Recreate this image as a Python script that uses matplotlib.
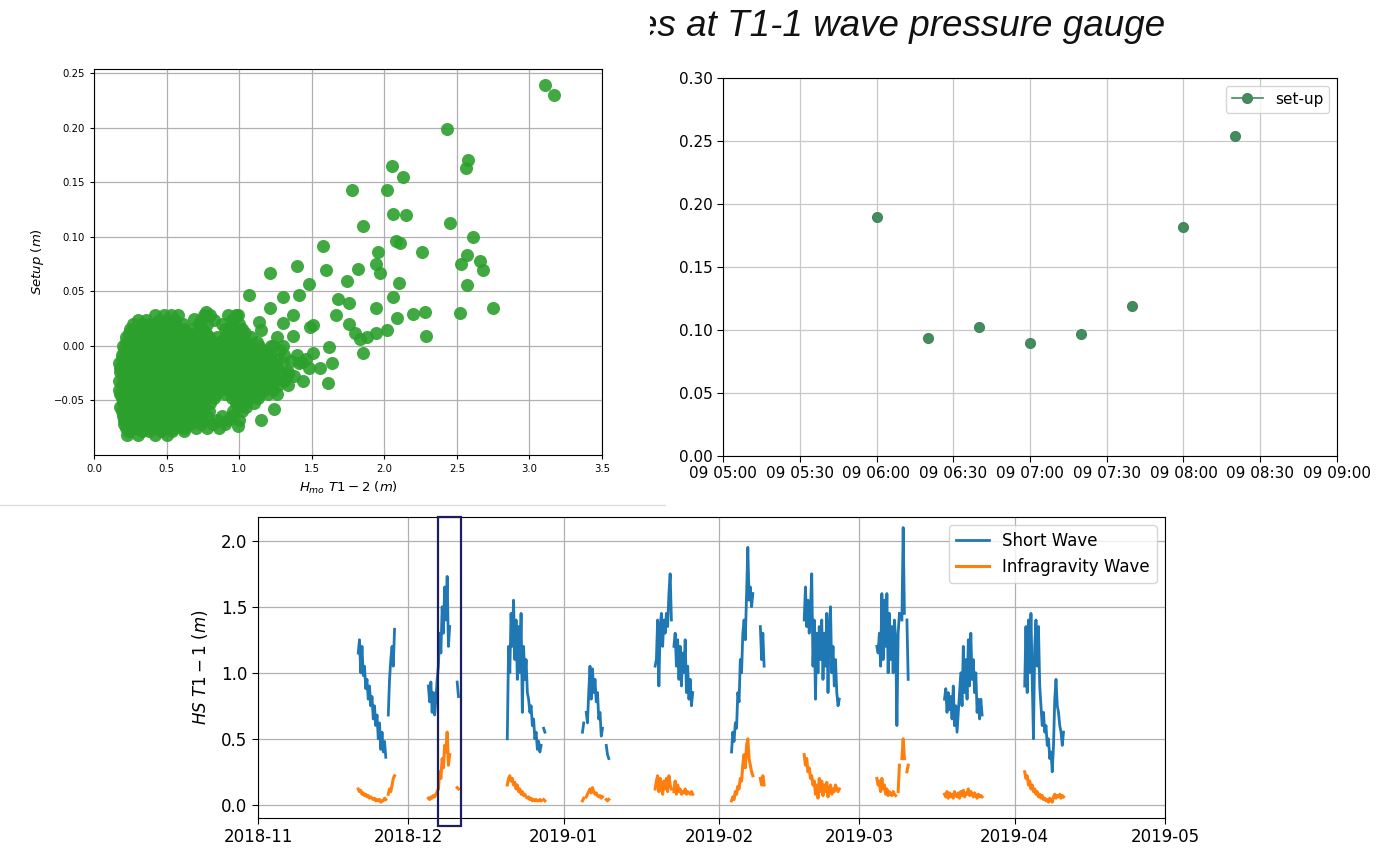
import numpy as np
import pandas as pd
import matplotlib
matplotlib.use('Agg')
import matplotlib.pyplot as plt
import matplotlib.dates as mdates
from matplotlib.patches import Rectangle
from matplotlib.transforms import Bbox, blended_transform_factory

nan = np.nan
W, H = 1392, 852

# ---- scatter: setup vs Hmo (T1-2) ----
hmo_out = [3.11, 3.17, 2.43, 2.58, 2.56, 2.05, 2.13, 1.78, 2.02, 2.06, 2.15, 1.85, 2.45, 2.61,
           2.08, 2.11, 1.58, 1.96, 2.26, 2.57, 1.40, 1.94, 1.97, 2.53, 1.60, 1.82, 2.66, 2.68,
           1.21, 1.74, 1.48, 2.10, 2.57, 1.07, 1.30, 1.41, 2.06, 1.68, 1.76, 1.21, 1.94, 2.75,
           2.28, 2.20, 2.52, 1.67, 1.37, 2.09, 1.76, 1.14, 1.30, 1.15, 1.80, 1.49, 2.02, 1.94,
           1.88, 1.83, 2.29, 1.37, 1.62, 1.85, 1.23, 1.21, 1.36, 1.43, 1.64, 1.56, 1.34, 1.44,
           1.61, 1.26, 1.24, 1.15, 0.99, 1.51, 1.51, 0.99, 0.77, 0.69]
setup_out = [0.239, 0.230, 0.199, 0.171, 0.163, 0.165, 0.155, 0.143, 0.143, 0.121, 0.120, 0.110,
             0.113, 0.100, 0.096, 0.094, 0.092, 0.086, 0.086, 0.083, 0.073, 0.075, 0.067, 0.075,
             0.070, 0.071, 0.078, 0.070, 0.067, 0.060, 0.057, 0.058, 0.056, 0.047, 0.045, 0.047,
             0.045, 0.043, 0.039, 0.035, 0.035, 0.035, 0.031, 0.029, 0.030, 0.028, 0.028, 0.026,
             0.020, 0.022, 0.021, 0.015, 0.012, 0.017, 0.015, 0.012, 0.008, 0.006, 0.009, 0.009,
             -0.001, -0.006, 0.000, -0.008, -0.014, -0.015, -0.016, -0.020, -0.026, -0.032,
             -0.034, -0.044, -0.058, -0.068, -0.073, -0.006, 0.019, 0.028, 0.031, 0.025]

# dense cluster, read row by row
blob_setup = [0.028, 0.020, 0.012, 0.004, -0.004, -0.012, -0.020, -0.028, -0.036, -0.044,
              -0.052, -0.060, -0.068, -0.075, -0.082]
blob_hmo = [
    [0.42, 0.48, 0.53, 0.58, 0.76, 0.80, 0.92, 0.98],
    [0.27, 0.33, 0.38, 0.44, 0.50, 0.56, 0.61, 0.72, 0.78, 0.88, 0.95, 1.00],
    [0.24, 0.30, 0.36, 0.42, 0.47, 0.53, 0.59, 0.64, 0.70, 0.77, 0.92, 0.98, 1.04],
    [0.22, 0.27, 0.33, 0.39, 0.45, 0.51, 0.57, 0.63, 0.69, 0.75, 0.81, 0.87, 0.93, 0.99, 1.05, 1.12],
    [0.21, 0.26, 0.32, 0.38, 0.44, 0.50, 0.56, 0.62, 0.68, 0.74, 0.80, 0.86, 0.92, 0.98, 1.04,
     1.10, 1.16, 1.28],
    [0.19, 0.25, 0.31, 0.37, 0.43, 0.49, 0.55, 0.61, 0.67, 0.73, 0.79, 0.85, 0.91, 0.97, 1.03,
     1.09, 1.15, 1.21, 1.27, 1.46],
    [0.18, 0.24, 0.30, 0.36, 0.42, 0.48, 0.54, 0.60, 0.66, 0.72, 0.78, 0.84, 0.90, 0.96, 1.02,
     1.08, 1.14, 1.20, 1.26, 1.48],
    [0.20, 0.26, 0.32, 0.38, 0.44, 0.50, 0.56, 0.62, 0.68, 0.74, 0.80, 0.86, 0.92, 0.98, 1.04,
     1.10, 1.16, 1.22, 1.30, 1.38],
    [0.19, 0.25, 0.31, 0.37, 0.43, 0.49, 0.55, 0.61, 0.67, 0.73, 0.79, 0.85, 0.91, 0.97, 1.03,
     1.09, 1.15, 1.21, 1.27, 1.34],
    [0.18, 0.24, 0.30, 0.36, 0.42, 0.48, 0.54, 0.60, 0.66, 0.72, 0.78, 0.84, 0.90, 0.96, 1.02,
     1.08, 1.14, 1.20],
    [0.20, 0.26, 0.32, 0.38, 0.44, 0.50, 0.56, 0.62, 0.68, 0.74, 0.80, 0.98, 1.04, 1.10],
    [0.19, 0.25, 0.31, 0.37, 0.43, 0.49, 0.55, 0.61, 0.67, 0.73, 0.79, 0.96, 1.02],
    [0.21, 0.27, 0.33, 0.39, 0.45, 0.51, 0.57, 0.63, 0.69, 0.75, 0.85, 0.92, 1.00],
    [0.22, 0.28, 0.35, 0.42, 0.48, 0.55, 0.62, 0.70, 0.78, 0.86],
    [0.23, 0.30, 0.42, 0.50],
]
# in-between rows of the same cluster (points sit staggered)
blob_mid_setup = [0.024, 0.016, 0.008, 0.000, -0.008, -0.016, -0.024, -0.032, -0.040, -0.048,
                  -0.056, -0.064, -0.072, -0.078]
blob_mid_hmo = [
    [0.30, 0.36, 0.45, 0.51, 0.56, 0.74, 0.83, 0.95],
    [0.25, 0.31, 0.39, 0.45, 0.50, 0.55, 0.62, 0.68, 0.75, 0.90, 0.96, 1.02],
    [0.22, 0.29, 0.35, 0.41, 0.48, 0.54, 0.60, 0.66, 0.72, 0.79, 0.85, 0.90, 0.96, 1.02, 1.08, 1.26],
    [0.20, 0.24, 0.30, 0.36, 0.42, 0.48, 0.54, 0.60, 0.66, 0.72, 0.78, 0.84, 0.90, 0.96, 1.02,
     1.08, 1.14, 1.22, 1.30],
    [0.19, 0.23, 0.29, 0.35, 0.41, 0.47, 0.53, 0.59, 0.65, 0.71, 0.77, 0.83, 0.89, 0.95, 1.01,
     1.07, 1.13, 1.19, 1.31, 1.40],
    [0.17, 0.22, 0.28, 0.34, 0.40, 0.46, 0.52, 0.58, 0.64, 0.70, 0.76, 0.82, 0.88, 0.94, 1.00,
     1.06, 1.12, 1.18, 1.24, 1.30, 1.41],
    [0.18, 0.23, 0.29, 0.35, 0.41, 0.47, 0.53, 0.59, 0.65, 0.71, 0.77, 0.83, 0.89, 0.95, 1.01,
     1.07, 1.13, 1.19, 1.25, 1.34],
    [0.17, 0.22, 0.28, 0.34, 0.40, 0.46, 0.52, 0.58, 0.64, 0.70, 0.76, 0.82, 0.88, 0.94, 1.00,
     1.06, 1.12, 1.18, 1.24, 1.31],
    [0.17, 0.21, 0.27, 0.33, 0.39, 0.45, 0.51, 0.57, 0.63, 0.69, 0.75, 0.81, 0.87, 0.93, 0.99,
     1.05, 1.11, 1.17, 1.23],
    [0.19, 0.23, 0.29, 0.35, 0.41, 0.47, 0.53, 0.59, 0.65, 0.71, 0.77, 0.83, 0.95, 1.01, 1.07, 1.13],
    [0.18, 0.22, 0.28, 0.34, 0.40, 0.46, 0.52, 0.58, 0.64, 0.70, 0.76, 0.99, 1.05],
    [0.20, 0.24, 0.30, 0.36, 0.42, 0.48, 0.54, 0.60, 0.66, 0.72, 0.78, 0.88, 0.95],
    [0.21, 0.25, 0.32, 0.38, 0.45, 0.52, 0.59, 0.66, 0.74, 0.82, 0.90],
    [0.24, 0.33, 0.38, 0.46, 0.54, 0.62],
]

# ---- set-up time series (top right) ----
setup_times = ['2019-01-09 06:00', '2019-01-09 06:10', '2019-01-09 06:20', '2019-01-09 06:30',
               '2019-01-09 06:40', '2019-01-09 06:50', '2019-01-09 07:00', '2019-01-09 07:10',
               '2019-01-09 07:20', '2019-01-09 07:30', '2019-01-09 07:40', '2019-01-09 07:50',
               '2019-01-09 08:00', '2019-01-09 08:10', '2019-01-09 08:20']
setup_vals = [0.190, nan, 0.094, nan, 0.102, nan, 0.090, nan, 0.097, nan, 0.119, nan, 0.182, nan, 0.254]

# ---- HS at T1-1 (bottom), 6-hourly values per storm burst ----
burst_start = ['2018-11-21 00:00', '2018-12-05 00:00', '2018-12-20 18:00', '2019-01-04 18:00',
               '2019-01-19 06:00', '2019-02-03 12:00', '2019-02-18 00:00', '2019-03-04 12:00',
               '2019-03-18 00:00', '2019-04-03 00:00']
sw1 = [1.15, 1.25, 1.00, 1.20, 0.98, 1.05, 0.88, 0.95, 0.80, 0.90, 0.75, 0.82, 0.65, 0.75, 0.60,
       0.68, 0.50, 0.62, 0.42, 0.55, 0.40, 0.48, 0.36, nan, 0.68, 0.95, 1.10, 1.20, 1.05, 1.33]
ig1 = [0.12, 0.10, 0.11, 0.08, 0.09, 0.07, 0.08, 0.06, 0.07, 0.05, 0.06, 0.05, 0.04, 0.05, 0.03,
       0.04, 0.03, 0.04, 0.02, 0.03, 0.03, 0.05, 0.04, nan, 0.08, 0.12, 0.10, 0.15, 0.20, 0.22]
sw2 = [0.90, 0.78, 0.93, 0.70, 0.85, 0.68, 0.80, 0.95, 1.05, 1.30, 1.15, 1.50, 1.30, 1.65, 1.40,
       1.73, 1.20, 1.35, nan, nan, nan, nan, nan, 0.93, 0.82]
ig2 = [0.05, 0.04, 0.06, 0.05, 0.07, 0.06, 0.08, 0.10, 0.12, 0.25, 0.20, 0.35, 0.28, 0.45, 0.40,
       0.55, 0.30, 0.38, nan, nan, nan, nan, nan, 0.13, 0.12]
sw3 = [0.50, 1.20, 1.00, 1.45, 1.20, 1.55, 1.10, 1.40, 0.95, 1.35, 1.00, 1.45, 0.70, 1.20, 0.95,
       1.10, 0.85, 0.80, 0.70, 0.75, 0.60, 0.65, 0.50, 0.55, 0.42, 0.48, 0.40, 0.45, nan, 0.58, 0.55]
ig3 = [0.15, 0.20, 0.22, 0.18, 0.20, 0.15, 0.17, 0.12, 0.15, 0.10, 0.12, 0.08, 0.10, 0.07, 0.08,
       0.06, 0.05, 0.06, 0.04, 0.05, 0.03, 0.04, 0.03, 0.04, 0.03, 0.03, 0.04, 0.03, nan, 0.04, 0.03]
sw4 = [0.55, 0.62, nan, 0.70, 0.62, 0.85, 1.05, 0.80, 1.03, 0.85, 0.95, 0.78, 0.85, 0.65, 0.70,
       0.52, 0.58, nan, nan, 0.45, 0.38, 0.35]
ig4 = [0.03, 0.05, nan, 0.06, 0.08, 0.10, 0.12, 0.09, 0.13, 0.10, 0.08, 0.09, 0.07, 0.06, 0.07,
       0.05, 0.06, nan, nan, 0.04, 0.03, 0.04]
sw5 = [1.05, 1.10, 1.40, 0.90, 1.35, 1.45, 1.20, 1.40, 1.30, 1.45, 1.35, 1.60, 1.75, 1.40, nan,
       1.20, 1.30, 1.05, 1.25, 0.95, 1.20, 0.90, 1.15, 1.00, 1.25, 0.85, 1.05, 0.80, 0.95, 0.75, 0.85]
ig5 = [0.12, 0.18, 0.22, 0.10, 0.20, 0.15, 0.08, 0.18, 0.12, 0.20, 0.10, 0.22, 0.15, 0.12, nan,
       0.10, 0.18, 0.08, 0.15, 0.10, 0.12, 0.08, 0.10, 0.09, 0.12, 0.08, 0.10, 0.09, 0.08, 0.10, 0.08]
sw6 = [0.40, 0.55, 0.48, 0.62, 0.58, 0.85, 0.78, 1.10, 1.00, 1.30, 1.40, 1.25, 1.60, 1.95, 1.55,
       1.65, 1.50, 1.60, nan, nan, nan, nan, nan, 1.35, 1.10, 1.30, 1.05]
ig6 = [0.03, 0.06, 0.04, 0.10, 0.08, 0.14, 0.12, 0.20, 0.18, 0.30, 0.38, 0.28, 0.45, 0.50, 0.35,
       0.30, 0.25, 0.22, nan, nan, nan, nan, nan, 0.20, 0.15, 0.22, 0.15]
sw7 = [1.40, 1.65, 1.35, 1.55, 1.30, 1.48, 1.75, 1.05, 1.40, 0.80, 1.30, 1.00, 1.35, 1.10, 1.40,
       0.95, 1.30, 1.05, 1.45, 0.85, 1.35, 1.50, 1.00, 1.20, 0.90, 1.10, 0.85, 0.75, 0.80]
ig7 = [0.38, 0.30, 0.35, 0.25, 0.28, 0.20, 0.22, 0.15, 0.18, 0.08, 0.15, 0.05, 0.20, 0.10, 0.18,
       0.07, 0.15, 0.10, 0.17, 0.06, 0.12, 0.15, 0.08, 0.12, 0.10, 0.15, 0.12, 0.10, 0.12]
sw8 = [1.20, 1.15, 1.30, 1.05, 1.60, 1.10, 1.55, 1.20, 1.60, 1.00, 1.45, 1.10, 1.35, 1.00, 1.40,
       1.25, 0.60, 1.30, 1.45, nan, 1.40, 2.10, 1.45, nan, 1.40, 0.95]
ig8 = [0.20, 0.15, 0.18, 0.10, 0.20, 0.12, 0.15, 0.08, 0.12, 0.07, 0.10, 0.08, 0.07, 0.10, 0.08,
       0.07, nan, 0.10, 0.30, nan, 0.35, 0.50, 0.35, nan, 0.25, 0.30]
sw9 = [0.80, 0.88, 0.70, 0.85, 0.72, 0.82, 0.65, 0.90, 0.60, 0.75, 0.55, 0.70, 0.85, 1.00, 0.75,
       1.20, 0.85, 1.10, 0.80, 1.25, 0.90, 1.30, 0.95, 1.10, 0.85, 1.00, 0.70, 0.80, 0.65, 0.80, 0.68]
ig9 = [0.08, 0.06, 0.10, 0.05, 0.09, 0.06, 0.08, 0.05, 0.10, 0.07, 0.06, 0.09, 0.05, 0.10, 0.07,
       0.11, 0.06, 0.09, 0.08, 0.12, 0.07, 0.10, 0.08, 0.06, 0.09, 0.07, 0.05, 0.08, 0.06, 0.07, 0.06]
sw10 = [0.90, 1.35, 0.85, 1.40, 1.00, 1.45, 0.95, 0.50, 1.20, 1.40, 1.05, 1.35, 0.90, 0.75, 0.60,
        0.70, 0.55, 0.60, 0.45, 0.50, 0.35, 0.40, 0.25, 0.45, 0.80, 0.95, 0.75, 0.70, 0.60, 0.55,
        0.45, 0.55]
ig10 = [0.25, 0.20, 0.22, 0.15, 0.18, 0.12, 0.15, 0.10, 0.12, 0.08, 0.10, 0.06, 0.08, 0.05, 0.07,
        0.04, 0.05, 0.03, 0.04, 0.02, 0.05, 0.03, 0.02, 0.06, 0.08, 0.05, 0.07, 0.06, 0.08, 0.05,
        0.07, 0.06]
short_wave = [sw1, sw2, sw3, sw4, sw5, sw6, sw7, sw8, sw9, sw10]
infragravity = [ig1, ig2, ig3, ig4, ig5, ig6, ig7, ig8, ig9, ig10]

box_dates = ['2018-12-06 21:00', '2018-12-11 12:00']


def join_bursts(starts, bursts):
    # put each burst on a 6 h time axis, NaN between bursts so lines break
    t_all, v_all = [], []
    for s, vals in zip(starts, bursts):
        t = pd.Timestamp(s) + pd.to_timedelta(np.arange(len(vals)) * 6, unit='h')
        t_all.extend(list(t) + [t[-1] + pd.Timedelta(hours=1)])
        v_all.extend(list(vals) + [nan])
    return pd.to_datetime(t_all), np.array(v_all, dtype=float)


def rect(l, t, r, b):
    return [l / W, 1 - b / H, (r - l) / W, (b - t) / H]


fig = plt.figure(figsize=(W / 100, H / 100), dpi=100)
fig.patch.set_facecolor('white')

# separator line under the scatter screenshot
fig.add_artist(plt.Line2D([0, 665 / W], [1 - 505 / H, 1 - 505 / H], color='#dcdcdc', lw=1))

# title fragment, cut at the left like in the slide
title = fig.text(637 / W, 1 - 27 / H, 'es at T1-1 wave pressure gauge', family='Liberation Sans',
                 fontstyle='italic', fontsize=26.5, ha='left', va='center', color='#111111')
title.set_clip_box(Bbox.from_extents(650, 0, W, H))
title.set_clip_on(True)

# --- scatter ---
ax1 = fig.add_axes(rect(94, 69, 602, 455))
hmo_all = list(hmo_out)
setup_all = list(setup_out)
for y, row in zip(blob_setup + blob_mid_setup, blob_hmo + blob_mid_hmo):
    hmo_all += row
    setup_all += [y] * len(row)
ax1.scatter(hmo_all, setup_all, s=88, color='#2ca02c', alpha=0.9, linewidths=0, zorder=3)
ax1.set_xlim(0, 3.5)
ax1.set_ylim(-0.1, 0.254)
ax1.set_xticks(np.arange(0, 3.51, 0.5))
ax1.set_yticks([-0.05, 0.0, 0.05, 0.10, 0.15, 0.20, 0.25])
ax1.grid(True, color='#b0b0b0', lw=0.9)
ax1.set_axisbelow(True)
ax1.tick_params(labelsize=7.3, length=3)
ax1.set_xlabel(r'$H_{mo}\ T1-2\ (m)$', fontsize=9.5, labelpad=4)
ax1.set_ylabel(r'$Setup\ (m)$', fontsize=9.5, labelpad=6)

# --- set-up time series ---
ax2 = fig.add_axes(rect(723, 78, 1337, 456))
ax2.plot(pd.to_datetime(setup_times), setup_vals, '-o', color='#3f8f5c', ms=7, lw=1.2,
         markeredgecolor='#4e8060', label='set-up')
ax2.set_xlim(pd.Timestamp('2019-01-09 05:00'), pd.Timestamp('2019-01-09 09:00'))
ax2.set_ylim(0, 0.30)
ax2.xaxis.set_major_locator(mdates.MinuteLocator(byminute=[0, 30]))
ax2.xaxis.set_major_formatter(mdates.DateFormatter('%d %H:%M'))
ax2.grid(True, color='#c8c8c8', lw=0.9)
ax2.tick_params(labelsize=11, length=4)
ax2.legend(loc='upper right', fontsize=11, handlelength=2, borderpad=0.4)

# --- HS time series ---
ax3 = fig.add_axes(rect(258, 517, 1165, 818))
t_sw, v_sw = join_bursts(burst_start, short_wave)
t_ig, v_ig = join_bursts(burst_start, infragravity)
ax3.plot(t_sw, v_sw, color='#1f77b4', lw=2, label='Short Wave')
ax3.plot(t_ig, v_ig, color='#ff7f0e', lw=2.2, label='Infragravity Wave')
ax3.set_xlim(pd.Timestamp('2018-11-01'), pd.Timestamp('2019-05-01'))
ax3.set_ylim(-0.1, 2.18)
ax3.set_yticks([0.0, 0.5, 1.0, 1.5, 2.0])
ax3.xaxis.set_major_locator(mdates.MonthLocator())
ax3.xaxis.set_major_formatter(mdates.DateFormatter('%Y-%m'))
ax3.grid(True, color='#b0b0b0', lw=0.9)
ax3.tick_params(labelsize=12, length=4)
ax3.set_ylabel(r'$HS\ T1-1\ (m)$', fontsize=12, labelpad=8)
ax3.legend(loc='upper right', fontsize=12, handlelength=2, borderpad=0.4)

# highlight box around the selected storm
trans = blended_transform_factory(ax3.transData, ax3.transAxes)
x0 = mdates.date2num(pd.Timestamp(box_dates[0]))
x1 = mdates.date2num(pd.Timestamp(box_dates[1]))
ax3.add_patch(Rectangle((x0, -0.025), x1 - x0, 1.025, transform=trans, fill=False,
                        edgecolor='#1c1f5c', lw=1.6, clip_on=False, zorder=5))

fig.savefig('out.png', dpi=100)
